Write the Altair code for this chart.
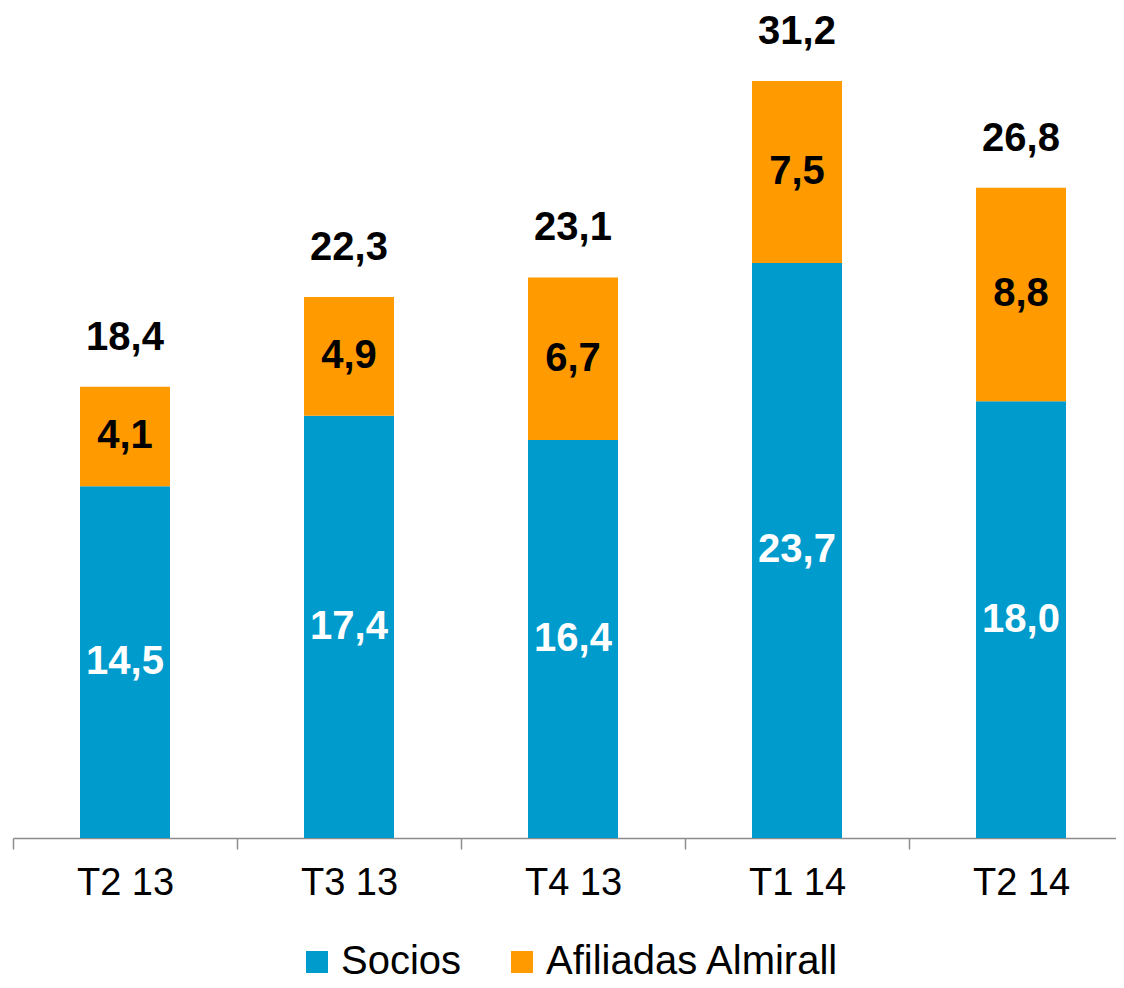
import json
import altair as alt
import pandas as pd

categorias = ["T2 13", "T3 13", "T4 13", "T1 14", "T2 14"]
socios = [14.5, 17.4, 16.4, 23.7, 18.0]
afiliadas = [4.1, 4.9, 6.7, 7.5, 8.8]
totales = [18.4, 22.3, 23.1, 31.2, 26.8]
series = ["Socios", "Afiliadas Almirall"]
colores = ["#009BCD", "#FF9A00"]

FONT = "Liberation Sans"


def fmt(v):
    return f"{v:.1f}".replace(".", ",")


rows = []
for i, c in enumerate(categorias):
    rows.append({"periodo": c, "pos": i + 0.5, "serie": series[0], "valor": socios[i], "orden": 0, "etiqueta": fmt(socios[i])})
    rows.append({"periodo": c, "pos": i + 0.5, "serie": series[1], "valor": afiliadas[i], "orden": 1, "etiqueta": fmt(afiliadas[i])})
df = pd.DataFrame(rows)

df_tot = pd.DataFrame({
    "periodo": categorias,
    "pos": [i + 0.5 for i in range(len(categorias))],
    "cima": [s + a for s, a in zip(socios, afiliadas)],
    "etiqueta": [fmt(t) for t in totales],
})

W = 1103
H = 825
STEP = 224

xscale = alt.Scale(domain=[0, W / STEP], nice=False, zero=False, padding=0)
xaxis = alt.Axis(
    title=None,
    values=[k * 0.5 for k in range(2 * len(categorias))],
    labelExpr=f"datum.value % 1 === 0 ? '' : {json.dumps(categorias)}[floor(datum.value)]",
    labelAngle=0, labelFontSize=38, labelFont=FONT, labelColor="black",
    labelOverlap=False, labelFlush=False, labelBound=False,
    domainColor="#8C8C8C", tickColor="#8C8C8C", domainWidth=1.5, tickWidth=1.5,
    tickSize=11, labelPadding=15, grid=False,
    tickOpacity={"condition": {"test": "datum.value % 1 === 0", "value": 1}, "value": 0},
)
xenc = alt.X("pos:Q", scale=xscale, axis=xaxis)
yscale = alt.Scale(domain=[0, 34], nice=False)

base = alt.Chart(df).transform_stack(
    stack="valor", groupby=["periodo"], as_=["y0", "y1"], sort=[alt.SortField("orden")]
).transform_calculate(mid="(datum.y0 + datum.y1) / 2")

barras = base.mark_bar(size=90).encode(
    x=xenc,
    y=alt.Y("y0:Q", scale=yscale, axis=None),
    y2="y1:Q",
    color=alt.Color(
        "serie:N",
        scale=alt.Scale(domain=series, range=colores),
        legend=alt.Legend(
            title=None, orient="none", legendX=284, legendY=929, direction="horizontal",
            symbolType="square", symbolSize=484, symbolStrokeWidth=0, symbolOpacity=1,
            labelFontSize=40, labelFont=FONT, labelColor="black", labelOffset=4,
            columnPadding=40, labelLimit=500,
        ),
    ),
)

textos = base.mark_text(fontSize=40, fontWeight="bold", font=FONT, baseline="middle").encode(
    x=xenc,
    y=alt.Y("mid:Q", scale=yscale, axis=None),
    text="etiqueta:N",
    color=alt.condition(alt.datum.serie == "Socios", alt.value("white"), alt.value("black")),
)

tot = alt.Chart(df_tot).mark_text(
    fontSize=40, fontWeight="bold", font=FONT, baseline="middle", dy=-49, color="black"
).encode(
    x=xenc,
    y=alt.Y("cima:Q", scale=yscale, axis=None),
    text="etiqueta:N",
)

chart = alt.layer(barras, textos, tot).properties(
    width=W,
    height=H,
    autosize=alt.AutoSizeParams(type="none"),
    padding={"left": 5, "top": 5, "right": 0, "bottom": 142},
).configure(background="white").configure_view(strokeWidth=0, stroke=None)

chart.save("out.html", embed_options={"renderer": "svg", "actions": False})
